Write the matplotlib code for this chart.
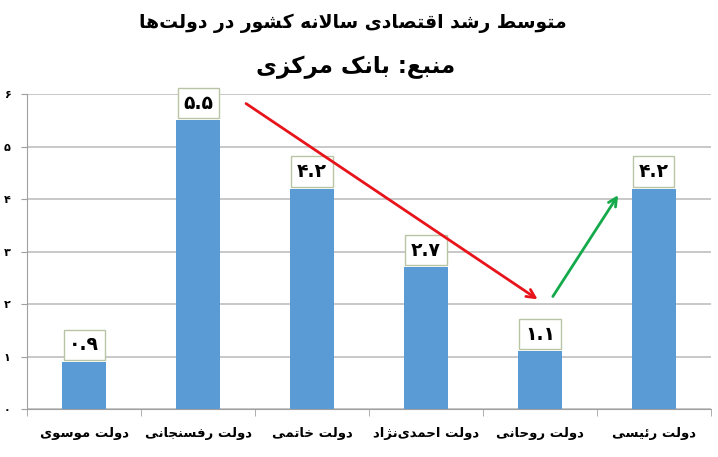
import matplotlib
matplotlib.use("Agg")
import matplotlib.pyplot as plt
import numpy as np

# --- data ---
governments = ["دولت موسوی", "دولت رفسنجانی", "دولت خاتمی",
               "دولت احمدی\u200cنژاد", "دولت روحانی", "دولت رئیسی"]
growth = [0.9, 5.5, 4.2, 2.7, 1.1, 4.2]
title = "متوسط رشد اقتصادی سالانه کشور در دولت\u200cها"
subtitle = "منبع: بانک مرکزی"
yticks = [0, 1, 2, 3, 4, 5, 6]

# minimal Persian shaping (matplotlib has no complex text layout)
FORMS = {
    "ا": "\uFE8D\uFE8E", "آ": "\uFE81\uFE82", "د": "\uFEA9\uFEAA", "ذ": "\uFEAB\uFEAC",
    "ر": "\uFEAD\uFEAE", "ز": "\uFEAF\uFEB0", "ژ": "\uFB8A\uFB8B", "و": "\uFEED\uFEEE",
    "ب": "\uFE8F\uFE90\uFE91\uFE92", "پ": "\uFB56\uFB57\uFB58\uFB59",
    "ت": "\uFE95\uFE96\uFE97\uFE98", "ث": "\uFE99\uFE9A\uFE9B\uFE9C",
    "ج": "\uFE9D\uFE9E\uFE9F\uFEA0", "چ": "\uFB7A\uFB7B\uFB7C\uFB7D",
    "ح": "\uFEA1\uFEA2\uFEA3\uFEA4", "خ": "\uFEA5\uFEA6\uFEA7\uFEA8",
    "س": "\uFEB1\uFEB2\uFEB3\uFEB4", "ش": "\uFEB5\uFEB6\uFEB7\uFEB8",
    "ص": "\uFEB9\uFEBA\uFEBB\uFEBC", "ض": "\uFEBD\uFEBE\uFEBF\uFEC0",
    "ط": "\uFEC1\uFEC2\uFEC3\uFEC4", "ظ": "\uFEC5\uFEC6\uFEC7\uFEC8",
    "ع": "\uFEC9\uFECA\uFECB\uFECC", "غ": "\uFECD\uFECE\uFECF\uFED0",
    "ف": "\uFED1\uFED2\uFED3\uFED4", "ق": "\uFED5\uFED6\uFED7\uFED8",
    "ک": "\uFB8E\uFB8F\uFB90\uFB91", "گ": "\uFB92\uFB93\uFB94\uFB95",
    "ل": "\uFEDD\uFEDE\uFEDF\uFEE0", "م": "\uFEE1\uFEE2\uFEE3\uFEE4",
    "ن": "\uFEE5\uFEE6\uFEE7\uFEE8", "ه": "\uFEE9\uFEEA\uFEEB\uFEEC",
    "ی": "\uFBFC\uFBFD\uFBFE\uFBFF", "ئ": "\uFE89\uFE8A\uFE8B\uFE8C",
}


def fwd(c):
    return c in FORMS and len(FORMS[c]) == 4


def fa(text):
    out = []
    i = 0
    n = len(text)
    while i < n:
        c = text[i]
        if c not in FORMS:
            if c != "\u200c":
                out.append(c)
            i += 1
            continue
        jp = i > 0 and fwd(text[i - 1])
        if c == "ل" and i + 1 < n and text[i + 1] == "ا":
            out.append("\uFEFC" if jp else "\uFEFB")
            i += 2
            continue
        jn = fwd(c) and i + 1 < n and text[i + 1] in FORMS
        f = FORMS[c]
        if jp and jn:
            out.append(f[3])
        elif jp:
            out.append(f[1])
        elif jn:
            out.append(f[2])
        else:
            out.append(f[0])
        i += 1
    return "".join(out)[::-1]


def fa_num(v):
    digits = "۰۱۲۳۴۵۶۷۸۹"
    return "".join(digits[int(ch)] if ch.isdigit() else ch for ch in str(v))


plt.rcParams["font.family"] = ["DejaVu Sans"]
plt.rcParams["font.weight"] = "bold"

fig = plt.figure(figsize=(7.18, 4.57), dpi=100)
ax = fig.add_axes([0.038, 0.105, 0.952, 0.689])

x = np.arange(len(governments))
ax.bar(x, growth, width=0.39, color="#5B9BD5", zorder=3)

for xi, v in zip(x, growth):
    ax.annotate(fa_num(v), (xi, v), xytext=(0, 5.5), textcoords="offset points",
                ha="center", va="bottom", fontsize=13.5, fontweight="bold", zorder=5,
                bbox=dict(boxstyle="square,pad=0.3", fc="white", ec="#b9c4a4", lw=1))

# trend arrows
ax.annotate("", xy=(4.0, 2.06), xytext=(1.40, 5.85),
            arrowprops=dict(arrowstyle="->,head_length=0.6,head_width=0.3",
                            color="#e8141b", lw=2), zorder=6)
ax.annotate("", xy=(4.70, 4.12), xytext=(4.10, 2.10),
            arrowprops=dict(arrowstyle="->,head_length=0.6,head_width=0.3",
                            color="#14a94a", lw=2), zorder=6)

ax.set_xlim(-0.5, len(governments) - 0.5)
ax.set_ylim(0, 6)
ax.set_yticks(yticks)
ax.set_yticklabels([fa_num(t) for t in yticks], fontsize=8)
ax.yaxis.grid(True, color="#bfbfbf", lw=1.2, zorder=0)
ax.set_xticks(x)
ax.set_xticklabels([fa(g) for g in governments], fontsize=9.5, fontweight="bold")
ax.tick_params(axis="x", length=0, pad=13)
ax.set_xticks(np.arange(-0.5, len(governments)), minor=True)
ax.tick_params(axis="x", which="minor", length=5, color="#a0a0a0")
ax.tick_params(axis="y", length=4, color="#a0a0a0", pad=8)
for s in ["top", "right"]:
    ax.spines[s].set_visible(False)
ax.spines["left"].set_color("#a0a0a0")
ax.spines["bottom"].set_color("#a0a0a0")

fig.text(0.492, 0.950, fa(title), ha="center", va="center", fontsize=13.5, fontweight="bold")
fig.text(0.495, 0.853, fa(subtitle), ha="center", va="center", fontsize=16.5, fontweight="bold")

fig.savefig("out.png", dpi=100)
